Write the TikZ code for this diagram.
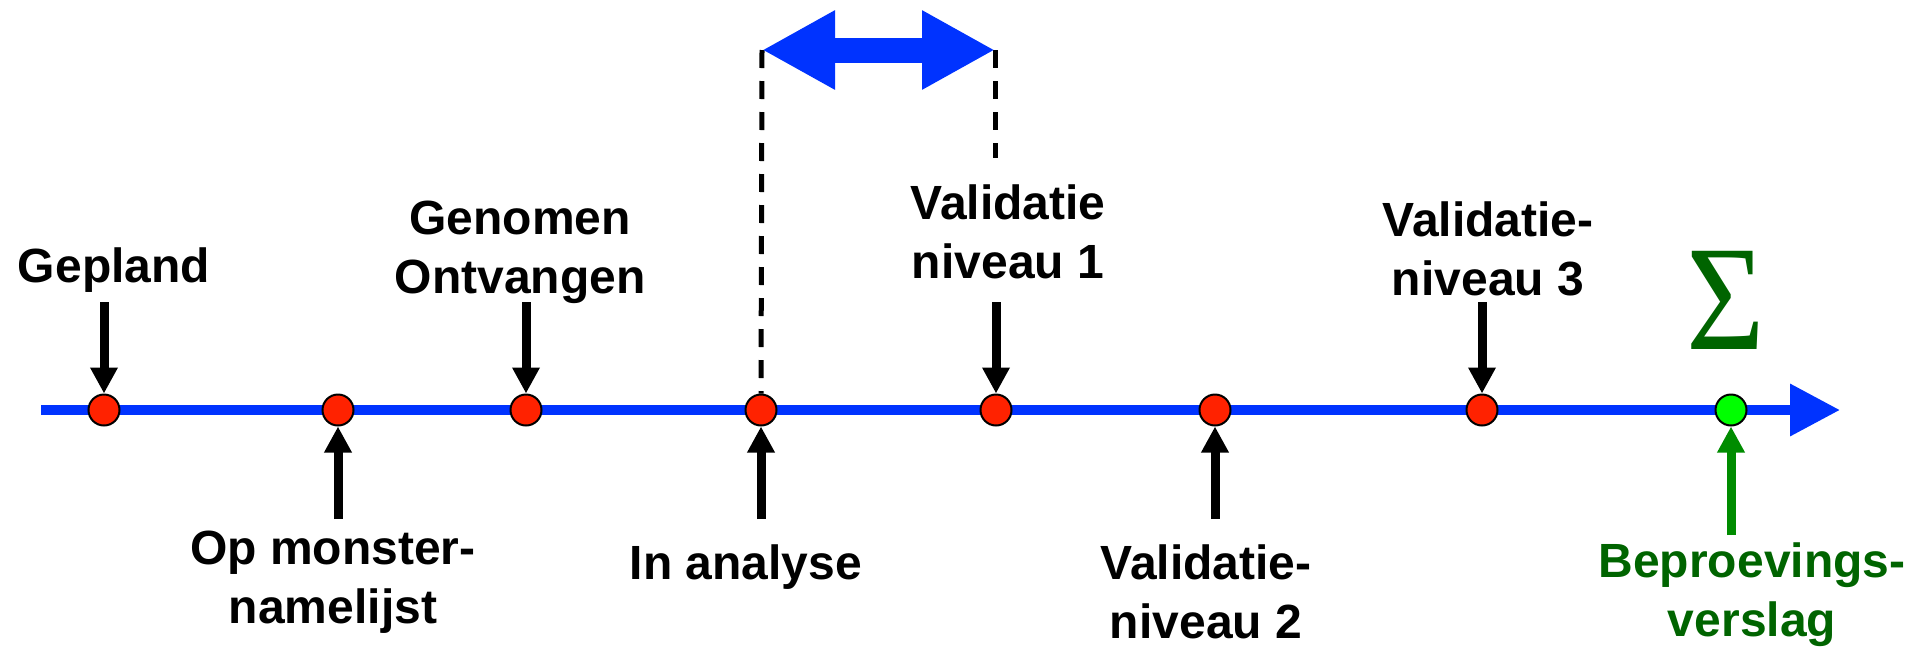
\documentclass[tikz,border=0pt]{standalone}
\usepackage{fontspec}
\setmainfont{Liberation Sans}
\newfontfamily\sigmafont{Liberation Serif}
\usepackage{xcolor}
\usetikzlibrary{arrows.meta,positioning}

\definecolor{lineblue}{RGB}{0,51,255}
\definecolor{dotred}{RGB}{255,34,0}
\definecolor{dotgreen}{RGB}{0,255,0}
\definecolor{arrowgreen}{RGB}{0,140,0}
\definecolor{textgreen}{RGB}{0,100,0}

\begin{document}
\begin{tikzpicture}[
    x=1pt, y=-1pt,
    dot/.style={circle, draw=black, line width=2pt, fill=dotred, minimum size=31pt, inner sep=0pt},
    milestone/.style={font=\bfseries\fontsize{48}{59}\selectfont, align=center, anchor=base, inner sep=0pt},
    pointer/.style={-{Triangle[length=26pt,width=26pt]}, line width=9pt},
    timeline/.style={-{Triangle[length=50pt,width=50pt]}, line width=10pt, draw=lineblue},
    span/.style={{Triangle[length=73pt,width=74pt]}-{Triangle[length=73pt,width=74pt]}, line width=25pt, draw=lineblue},
    guide/.style={dash pattern=on 18pt off 13pt, line width=5pt}
]
\useasboundingbox (0,0) rectangle (1912,646);

% Timeline
\coordinate (tstart) at (41,410);
\coordinate (tend) at (1840,410);
\draw[timeline] (tstart) -- (tend);

% Milestones on the timeline
\node[dot] (gepland) at (104,410) {};
\node[dot] (monster) at (338,410) {};
\node[dot] (genomen) at (526,410) {};
\node[dot] (analyse) at (761,410) {};
\node[dot] (val1) at (996,410) {};
\node[dot] (val2) at (1215,410) {};
\node[dot] (val3) at (1482,410) {};
\node[dot, fill=dotgreen] (verslag) at (1731,410) {};

% Labels above (anchored on the last line)
\node[milestone] (gepland_txt) at (114,282) {Gepland};
\node[milestone] (genomen_txt) at (520,293) {Genomen\\Ontvangen};
\node[milestone] (val1_txt) at (1008,278) {Validatie\\niveau 1};
\node[milestone] (val3_txt) at (1488,295) {Validatie-\\niveau 3};

% Labels below
\node[milestone] (monster_txt) at (333,623) {Op monster-\\namelijst};
\node[milestone] (analyse_txt) at (746,579) {In analyse};
\node[milestone] (val2_txt) at (1206,638) {Validatie-\\niveau 2};
\node[milestone, text=textgreen] (verslag_txt) at (1752,636) {Beproevings-\\verslag};
\node[anchor=base, inner sep=0pt, text=textgreen, font=\sigmafont\fontsize{150}{150}\selectfont, xscale=0.9, transform shape] (sigma) at (1726,349) {Σ};

% Pointers
\coordinate (gepland_top) at (104,302);
\coordinate (genomen_top) at (526,302);
\coordinate (val1_top) at (996,302);
\coordinate (val3_top) at (1482,302);
\coordinate (monster_bot) at (338,519);
\coordinate (analyse_bot) at (761,519);
\coordinate (val2_bot) at (1215,519);
\coordinate (verslag_bot) at (1731,535);
\draw[pointer] (gepland_top) -- (gepland.north);
\draw[pointer] (genomen_top) -- (genomen.north);
\draw[pointer] (val1_top) -- (val1.north);
\draw[pointer] (val3_top) -- (val3.north);
\draw[pointer] (monster_bot) -- (monster.south);
\draw[pointer] (analyse_bot) -- (analyse.south);
\draw[pointer] (val2_bot) -- (val2.south);
\draw[pointer, draw=arrowgreen, fill=arrowgreen] (verslag_bot) -- (verslag.south);

% Span between analysis and first validation
\coordinate (span_l) at (762,50);
\coordinate (span_r) at (995,50);
\coordinate (guide_r) at (995,158);
\draw[guide] (span_l) -- (analyse.north);
\draw[guide] (span_r) -- (guide_r);
\draw[span] (span_l) -- (span_r);

\end{tikzpicture}
\end{document}
